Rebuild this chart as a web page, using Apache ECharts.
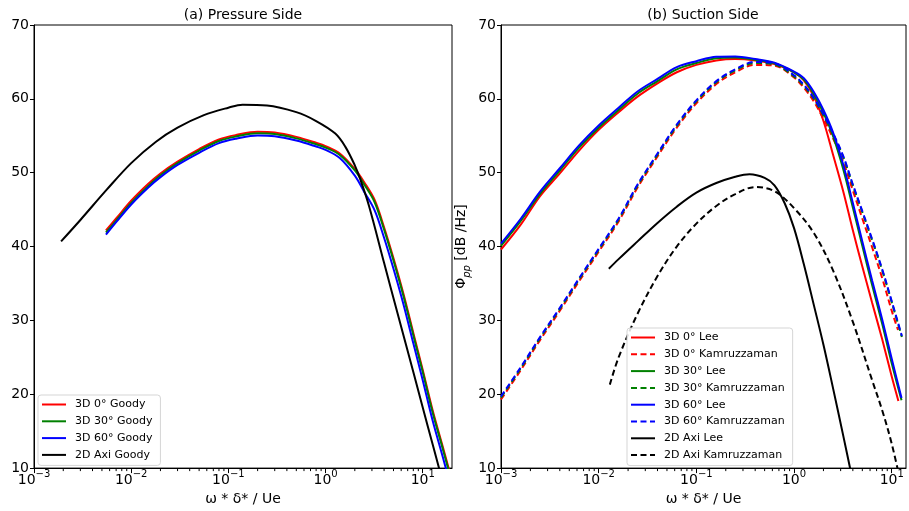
<!DOCTYPE html>
<html>
<head>
<meta charset="utf-8">
<script src="https://cdn.jsdelivr.net/npm/echarts@6/dist/echarts.min.js"></script>
<style>
  html, body { margin: 0; padding: 0; background: #fff; }
  #chart { width: 909px; height: 511px; }
</style>
</head>
<body>
<div id="chart"></div>
<script>
// ---- (a) pressure side, Goody model ----
const psFreq = [0.0055, 0.007, 0.01, 0.015, 0.02, 0.03, 0.05, 0.08, 0.12, 0.2, 0.3, 0.5, 0.8, 1.0, 1.4, 2.0, 2.5, 3.2, 4, 5, 6.3, 8, 10, 12.6, 16, 20];
const psGoody0  = [42.2, 43.8, 46.2, 48.5, 49.9, 51.5, 53.2, 54.5, 55.1, 55.55, 55.45, 54.85, 54.05, 53.6, 52.6, 50.5, 48.7, 46.3, 42.6, 38.4, 33.7, 28.3, 23.3, 17.9, 13.0, 8.3];
const psGoody30 = [41.9, 43.5, 45.9, 48.2, 49.65, 51.3, 53.0, 54.3, 54.9, 55.35, 55.25, 54.65, 53.85, 53.4, 52.4, 50.3, 48.4, 46.0, 42.3, 38.1, 33.4, 28.0, 23.0, 17.6, 12.7, 8.0];
const psGoody60 = [41.6, 43.3, 45.7, 48.0, 49.4, 51.05, 52.7, 54.0, 54.6, 55.05, 54.95, 54.35, 53.55, 53.1, 52.0, 49.6, 47.4, 44.9, 41.2, 37.0, 32.3, 26.9, 21.9, 16.5, 11.6, 6.9];
const psAxiFreq = [0.0019, 0.003, 0.0056, 0.01, 0.018, 0.03, 0.056, 0.1, 0.14, 0.25, 0.5, 0.8, 1.26, 1.6, 2.0, 2.25, 2.8, 4, 5.6, 8, 10, 12.6, 16];
const psGoodyAxi = [40.7, 43.6, 47.7, 51.3, 54.2, 56.1, 57.8, 58.8, 59.2, 59.1, 58.2, 57.0, 55.3, 53.5, 51.0, 49.3, 45.5, 37.8, 30.6, 23.0, 18.2, 13.3, 8.2];

// ---- (b) suction side, Lee and Kamruzzaman models ----
const ssFreq     = [0.001, 0.0016, 0.0025, 0.004, 0.0063, 0.01, 0.016, 0.025, 0.04, 0.063, 0.1, 0.16, 0.25, 0.4, 0.63, 1.0, 1.26, 1.6, 2.0, 2.5, 3.2, 4.0, 5.0, 6.3, 8.0, 10.0, 12.6];
const ssFreqLee0 = [0.001, 0.0016, 0.0025, 0.004, 0.0063, 0.01, 0.016, 0.025, 0.04, 0.063, 0.1, 0.16, 0.25, 0.4, 0.63, 1.0, 1.26, 1.6, 2.0, 2.5, 3.2, 4.0, 5.0, 6.3, 8.0, 10.0, 11.7];
const ssFreqKam0 = [0.001, 0.0016, 0.0025, 0.004, 0.0063, 0.01, 0.016, 0.025, 0.04, 0.063, 0.1, 0.16, 0.25, 0.4, 0.63, 1.0, 1.26, 1.6, 2.0, 2.5, 3.2, 4.0, 5.0, 6.3, 8.0, 10.0, 11.6];
const ssFreqKam  = [0.001, 0.0016, 0.0025, 0.004, 0.0063, 0.01, 0.016, 0.025, 0.04, 0.063, 0.1, 0.16, 0.25, 0.4, 0.63, 1.0, 1.26, 1.6, 2.0, 2.5, 3.2, 4.0, 5.0, 6.3, 8.0, 10.0, 12.7];
const ssLee0  = [39.6, 43.0, 46.8, 49.9, 53.0, 55.8, 58.2, 60.3, 62.1, 63.6, 64.6, 65.2, 65.4, 65.2, 64.7, 63.6, 62.5, 60.3, 57.0, 52.5, 47.4, 42.2, 37.3, 32.4, 27.4, 22.4, 19.1];
const ssLee30 = [40.1, 43.5, 47.1, 50.3, 53.4, 56.1, 58.5, 60.7, 62.4, 64.0, 64.85, 65.5, 65.6, 65.3, 64.8, 63.6, 62.6, 60.6, 58.1, 55.0, 50.4, 45.3, 40.1, 34.8, 29.5, 24.2, 19.2];
const ssLee60 = [40.4, 43.8, 47.4, 50.6, 53.7, 56.4, 58.8, 61.0, 62.7, 64.3, 65.1, 65.7, 65.75, 65.4, 64.9, 63.7, 62.8, 60.9, 58.5, 55.5, 51.0, 45.9, 40.7, 35.4, 30.1, 24.8, 19.5];
const ssKam0  = [19.3, 23.3, 27.3, 31.3, 35.3, 39.3, 43.4, 48.0, 52.2, 56.1, 59.4, 62.0, 63.6, 64.6, 64.5, 62.9, 61.5, 59.6, 57.3, 54.7, 51.4, 47.6, 43.8, 39.9, 35.7, 31.3, 28.7];
const ssKam30 = [19.55, 23.55, 27.55, 31.55, 35.55, 39.55, 43.65, 48.25, 52.45, 56.35, 59.65, 62.25, 63.85, 64.85, 64.65, 63.05, 61.75, 59.95, 57.75, 55.25, 52.05, 48.25, 44.65, 40.85, 36.75, 32.45, 27.75];
const ssKam60 = [19.7, 23.7, 27.7, 31.7, 35.7, 39.7, 43.8, 48.4, 52.6, 56.5, 59.8, 62.4, 64.0, 65.0, 64.8, 63.2, 61.9, 60.1, 57.9, 55.4, 52.2, 48.4, 44.8, 41.0, 36.9, 32.6, 27.9];
const ssAxiLeeFreq = [0.0127, 0.016, 0.025, 0.04, 0.063, 0.1, 0.16, 0.25, 0.35, 0.5, 0.63, 0.8, 1.0, 1.26, 1.6, 2.0, 2.5, 3.2, 4.0];
const ssLeeAxi     = [37.0, 38.3, 40.7, 43.2, 45.4, 47.3, 48.6, 49.45, 49.8, 49.3, 48.3, 45.9, 42.5, 37.6, 32.0, 26.7, 20.9, 14.3, 8.2];
const ssAxiKamFreq = [0.013, 0.016, 0.025, 0.04, 0.063, 0.1, 0.16, 0.25, 0.4, 0.63, 1.0, 1.6, 2.5, 4.0, 6.3, 8.0, 10.0, 12.6];
const ssKamAxi     = [21.3, 25.0, 30.9, 36.0, 40.0, 43.1, 45.5, 47.1, 48.05, 47.5, 45.2, 41.8, 36.8, 29.8, 21.9, 17.8, 13.3, 7.5];

const yTicks = [10, 20, 30, 40, 50, 60, 70];

const FONT = 'DejaVu Sans';
const RED = '#ff0000', GREEN = '#008000', BLUE = '#0000ff', BLACK = '#000000';
const DASH = [6, 3.5];
// legend keys drawn as short bars (solid / dashed)
const ICON_SOLID = 'path://M0,0H24V2H0Z';
const ICON_DASH = 'path://M0,0H6V2H0Z M9.5,0H15.5V2H9.5Z M19,0H24V2H19Z';

function pts(xs, ys) { return xs.map((x, i) => [x, ys[i]]); }

// 10^k labels with a raised exponent
function decadeLabel(v) {
  const e = Math.log10(v);
  const r = Math.round(e);
  if (Math.abs(e - r) > 1e-6) return '';
  return '{b|10}{e|' + String(r).replace('-', '\u2212') + '}';
}

// minor ticks at 2..9 x 10^k, as in the original log axes
function minorTickData(maxV) {
  const out = [];
  for (let e = -3; e <= 1; e++) {
    for (let m = 2; m <= 9; m++) {
      const t = m * Math.pow(10, e);
      if (t < maxV) out.push([t, yTicks[0]]);
    }
  }
  return out;
}

function logAxis(idx, maxV) {
  return {
    type: 'log', logBase: 10, gridIndex: idx, min: 0.001, max: maxV,
    name: 'ω * δ* / Ue', nameLocation: 'middle', nameGap: 20,
    nameTextStyle: { fontFamily: FONT, fontSize: 14, color: '#000' },
    axisLine: { show: true, lineStyle: { color: '#000', width: 1 } },
    axisTick: { show: true, length: 5, lineStyle: { color: '#000' } },
    axisLabel: {
      fontFamily: FONT, fontSize: 14, color: '#000', margin: 1, formatter: decadeLabel, showMaxLabel: false,
      rich: {
        b: { fontFamily: FONT, fontSize: 14, color: '#000', lineHeight: 18, verticalAlign: 'bottom' },
        e: { fontFamily: FONT, fontSize: 10, color: '#000', lineHeight: 12, verticalAlign: 'top' }
      }
    },
    splitLine: { show: false },
    minorTick: { show: false }
  };
}

function valAxis(idx, name) {
  return {
    type: 'value', gridIndex: idx, min: 10, max: 70, interval: 10,
    name: name, nameLocation: 'middle', nameGap: 29, nameRotate: 90,
    nameTextStyle: {
      fontFamily: FONT, fontSize: 14, color: '#000',
      rich: {
        a: { fontFamily: FONT, fontSize: 14, color: '#000', lineHeight: 18, verticalAlign: 'top' },
        s: { fontFamily: FONT, fontSize: 10, fontStyle: 'italic', color: '#000', lineHeight: 12, verticalAlign: 'bottom' }
      }
    },
    axisLine: { show: true, lineStyle: { color: '#000', width: 1 } },
    axisTick: { show: true, length: 4, lineStyle: { color: '#000' } },
    axisLabel: { fontFamily: FONT, fontSize: 14, color: '#000', margin: 5 },
    splitLine: { show: false }
  };
}

function line(name, data, color, dashed, ax) {
  return {
    name: name, type: 'line', data: data, xAxisIndex: ax, yAxisIndex: ax,
    symbol: 'none', smooth: 0.35, clip: true,
    lineStyle: { color: color, width: 2, type: dashed ? DASH : 'solid' },
    itemStyle: { color: color },
    emphasis: { disabled: true }
  };
}

function minorSeries(ax, maxV) {
  return {
    type: 'custom', xAxisIndex: ax, yAxisIndex: ax, silent: true, clip: false,
    data: minorTickData(maxV),
    renderItem: function (params, api) {
      const p = api.coord([api.value(0), api.value(1)]);
      return { type: 'line', shape: { x1: p[0], y1: p[1], x2: p[0], y2: p[1] + 3 }, style: { stroke: '#000', lineWidth: 1 } };
    }
  };
}

function legendItems(names) {
  return names.map(n => ({ name: n, icon: n.indexOf('Kamruzzaman') >= 0 ? ICON_DASH : ICON_SOLID }));
}

const legendCommon = {
  orient: 'vertical', itemWidth: 24, itemHeight: 12, itemGap: 5.8,
  padding: [4, 8, 5, 4], symbolKeepAspect: true,
  itemStyle: { borderWidth: 0 },
  borderColor: '#d5d5d5', borderWidth: 1, borderRadius: 3, backgroundColor: 'rgba(255,255,255,0.85)',
  textStyle: { fontFamily: FONT, fontSize: 11, color: '#000', padding: [0, 0, 0, 4] },
  selectedMode: false
};

const chart = echarts.init(document.getElementById('chart'));
chart.setOption({
  animation: false,
  backgroundColor: '#fff',
  graphic: [
    { type: 'text', x: 243, y: 8, style: { text: '(a) Pressure Side', fontFamily: FONT, fontSize: 14, fill: '#000', align: 'center', textAlign: 'center' } },
    { type: 'text', x: 703, y: 8, style: { text: '(b) Suction Side', fontFamily: FONT, fontSize: 14, fill: '#000', align: 'center', textAlign: 'center' } }
  ],
  grid: [
    { left: 34, top: 25, width: 418, height: 446, show: true, borderColor: '#000', borderWidth: 1, containLabel: false },
    { left: 501, top: 25, width: 405, height: 446, show: true, borderColor: '#000', borderWidth: 1, containLabel: false }
  ],
  xAxis: [logAxis(0, 20), logAxis(1, 14)],
  yAxis: [valAxis(0, ''), valAxis(1, '{a|Φ}{s|pp}{a| [dB /Hz]}')],
  legend: [
    Object.assign({}, legendCommon, { left: 38, top: 395,
      data: legendItems(['3D 0° Goody', '3D 30° Goody', '3D 60° Goody', '2D Axi Goody']) }),
    Object.assign({}, legendCommon, { left: 627, top: 328,
      data: legendItems(['3D 0° Lee', '3D 0° Kamruzzaman', '3D 30° Lee', '3D 30° Kamruzzaman', '3D 60° Lee', '3D 60° Kamruzzaman', '2D Axi Lee', '2D Axi Kamruzzaman']) })
  ],
  series: [
    line('3D 0° Goody', pts(psFreq, psGoody0), RED, false, 0),
    line('3D 30° Goody', pts(psFreq, psGoody30), GREEN, false, 0),
    line('3D 60° Goody', pts(psFreq, psGoody60), BLUE, false, 0),
    line('2D Axi Goody', pts(psAxiFreq, psGoodyAxi), BLACK, false, 0),
    line('3D 0° Lee', pts(ssFreqLee0, ssLee0), RED, false, 1),
    line('3D 0° Kamruzzaman', pts(ssFreqKam0, ssKam0), RED, true, 1),
    line('3D 30° Lee', pts(ssFreq, ssLee30), GREEN, false, 1),
    line('3D 30° Kamruzzaman', pts(ssFreqKam, ssKam30), GREEN, true, 1),
    line('3D 60° Lee', pts(ssFreq, ssLee60), BLUE, false, 1),
    line('3D 60° Kamruzzaman', pts(ssFreqKam, ssKam60), BLUE, true, 1),
    line('2D Axi Lee', pts(ssAxiLeeFreq, ssLeeAxi), BLACK, false, 1),
    line('2D Axi Kamruzzaman', pts(ssAxiKamFreq, ssKamAxi), BLACK, true, 1),
    minorSeries(0, 20),
    minorSeries(1, 14)
  ]
});
</script>
</body>
</html>
